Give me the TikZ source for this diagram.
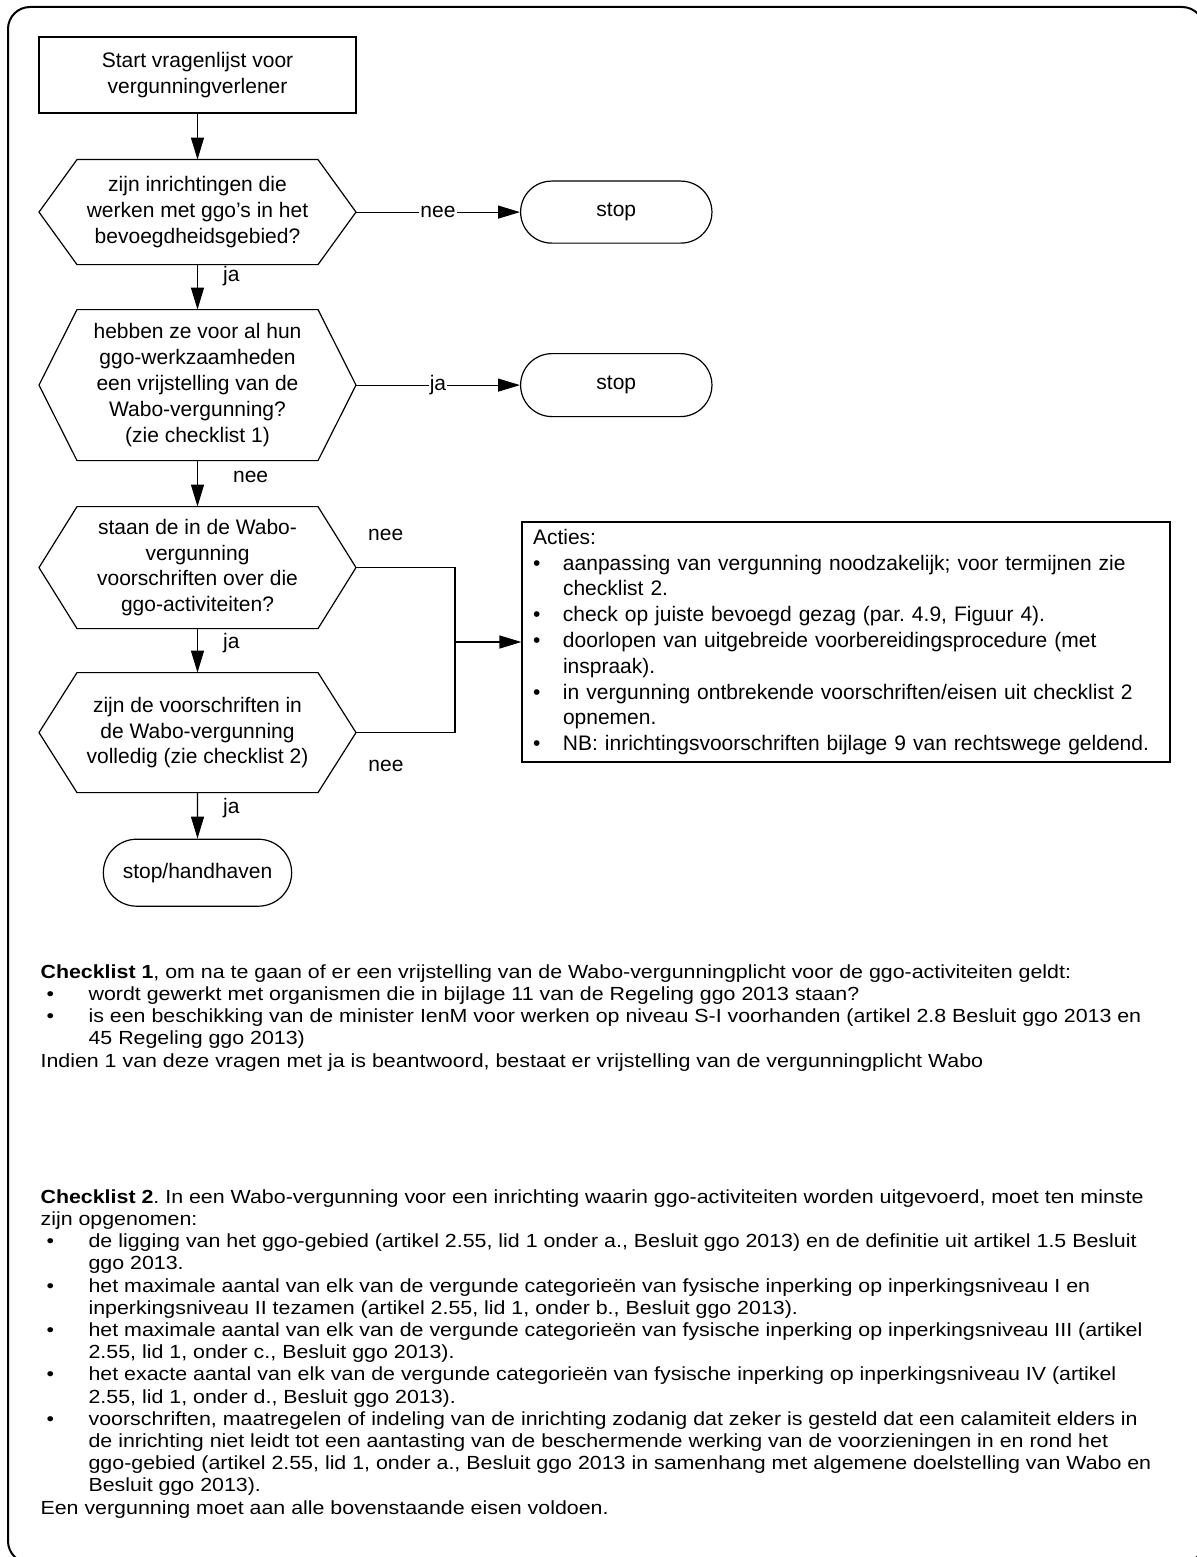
\documentclass[tikz,border=0pt]{standalone}
\usepackage{fontspec}
\setmainfont{Liberation Sans}
\newfontfamily\notefont[FakeStretch=1.125]{Liberation Sans}
\usetikzlibrary{shapes.misc, arrows.meta, positioning, calc}
\frenchspacing

% hexagon round a question node
\newcommand{\hexframe}[1]{%
  \draw (#1.west) -- ([xshift=38pt]#1.north west) -- ([xshift=-38pt]#1.north east)
    -- (#1.east) -- ([xshift=-38pt]#1.south east) -- ([xshift=38pt]#1.south west) -- cycle;}
% bullets for the lists
\newcommand{\bul}{\makebox[48pt][l]{\hspace{6pt}\textbullet}}
\newcommand{\ind}{\hspace*{48pt}}
\newcommand{\abul}{\makebox[30pt][l]{\textbullet}}
\newcommand{\aind}{\hspace*{30pt}}

\begin{document}
\begin{tikzpicture}[
    >={Triangle[length=22pt, width=13pt]},
    line width=1.2pt,
    node distance=45pt and 164pt,
    font=\fontsize{21}{25.8}\selectfont,
    startbox/.style={rectangle, draw, minimum width=317pt, minimum height=76pt, align=center},
    question/.style={rectangle, outer sep=0pt, minimum width=317pt, align=center},
    stopbox/.style={rounded rectangle, draw, minimum width=198pt, minimum height=62pt},
    actbox/.style={rectangle, draw, text width=626pt, inner xsep=11pt, minimum height=240pt, align=left},
    lbl/.style={inner sep=1pt},
    note/.style={font=\notefont\fontsize{19}{22.2}\selectfont, align=left, inner sep=0pt, anchor=north west},
    frame/.style={draw, line width=2pt, rounded corners=22pt}
]
\useasboundingbox (0,0) rectangle (1196pt,-1557pt);
\draw[frame] (8pt,-7pt) rectangle (1204pt,-1563pt);

% Flow
\node[startbox] (start) at (197.5pt,-75pt) {Start vragenlijst voor\\vergunningverlener};
\node[question, minimum height=105pt] (q1) [below=46pt of start] {zijn inrichtingen die\\werken met ggo’s in het\\bevoegdheidsgebied?};
\node[question, minimum height=151pt] (q2) [below=45pt of q1] {hebben ze voor al hun\\ggo-werkzaamheden\\een vrijstelling van de\\Wabo-vergunning?\\(zie checklist 1)};
\node[question, minimum height=122pt] (q3) [below=46pt of q2] {staan de in de Wabo-\\vergunning\\voorschriften over die\\ggo-activiteiten?};
\node[question, minimum height=120pt] (q4) [below=44pt of q3] {zijn de voorschriften in\\de Wabo-vergunning\\volledig (zie checklist 2)};
\node[stopbox, minimum width=195pt, minimum height=67pt] (stopend) [below=46pt of q4] {stop/handhaven};
\hexframe{q1}
\hexframe{q2}
\hexframe{q3}
\hexframe{q4}

% Stops
\node[stopbox] (stop1) [right=of q1] {stop};
\node[stopbox, minimum height=63pt] (stop2) [right=of q2] {stop};

% Actions
\node[actbox] (acties) at (846pt,-642pt) {Acties:\\
\abul aanpassing van vergunning noodzakelijk; voor termijnen zie\\
\aind checklist 2.\\
\abul check op juiste bevoegd gezag (par. 4.9, Figuur 4).\\
\abul doorlopen van uitgebreide voorbereidingsprocedure (met\\
\aind inspraak).\\
\abul in vergunning ontbrekende voorschriften/eisen uit checklist 2\\
\aind opnemen.\\
\abul NB: inrichtingsvoorschriften bijlage 9 van rechtswege geldend.};

% Connectors
\draw[->] (start) -- (q1);
\draw[->] (q1) -- node[lbl, fill=white] {nee} (stop1);
\draw[->] (q1) -- node[lbl, near start, right=24pt] {ja} (q2);
\draw[->] (q2) -- node[lbl, fill=white] {ja} (stop2);
\draw[->] (q2) -- node[lbl, pos=0.35, right=34pt] {nee} (q3);
\draw[->] (q3) -- node[lbl, pos=0.34, right=24pt] {ja} (q4);
\draw[->] (q4) -- node[lbl, pos=0.33, right=24pt] {ja} (stopend);

\coordinate (join) at ([xshift=99pt]q3.east);
\draw (q3.east) -- node[lbl, pos=0.3, yshift=33pt] {nee} (join) |- (q4.east);
\node[lbl] (neelow) at ([xshift=30pt, yshift=-33pt]q4.east) {nee};
\draw[->] (join |- acties.west) -- (acties.west);

% Checklists
\node[note] (check1) at (40pt,-964pt) {\textbf{Checklist 1}, om na te gaan of er een vrijstelling van de Wabo-vergunningplicht voor de ggo-activiteiten geldt:\\
\bul wordt gewerkt met organismen die in bijlage 11 van de Regeling ggo 2013 staan?\\
\bul is een beschikking van de minister IenM voor werken op niveau S-I voorhanden (artikel 2.8 Besluit ggo 2013 en\\
\ind 45 Regeling ggo 2013)\\
Indien 1 van deze vragen met ja is beantwoord, bestaat er vrijstelling van de vergunningplicht Wabo};

\node[note] (check2) at (40pt,-1189pt) {\textbf{Checklist 2}. In een Wabo-vergunning voor een inrichting waarin ggo-activiteiten worden uitgevoerd, moet ten minste\\
zijn opgenomen:\\
\bul de ligging van het ggo-gebied (artikel 2.55, lid 1 onder a., Besluit ggo 2013) en de definitie uit artikel 1.5 Besluit\\
\ind ggo 2013.\\
\bul het maximale aantal van elk van de vergunde categorieën van fysische inperking op inperkingsniveau I en\\
\ind inperkingsniveau II tezamen (artikel 2.55, lid 1, onder b., Besluit ggo 2013).\\
\bul het maximale aantal van elk van de vergunde categorieën van fysische inperking op inperkingsniveau III (artikel\\
\ind 2.55, lid 1, onder c., Besluit ggo 2013).\\
\bul het exacte aantal van elk van de vergunde categorieën van fysische inperking op inperkingsniveau IV (artikel\\
\ind 2.55, lid 1, onder d., Besluit ggo 2013).\\
\bul voorschriften, maatregelen of indeling van de inrichting zodanig dat zeker is gesteld dat een calamiteit elders in\\
\ind de inrichting niet leidt tot een aantasting van de beschermende werking van de voorzieningen in en rond het\\
\ind ggo-gebied (artikel 2.55, lid 1, onder a., Besluit ggo 2013 in samenhang met algemene doelstelling van Wabo en\\
\ind Besluit ggo 2013).\\
Een vergunning moet aan alle bovenstaande eisen voldoen.};

\end{tikzpicture}
\end{document}
